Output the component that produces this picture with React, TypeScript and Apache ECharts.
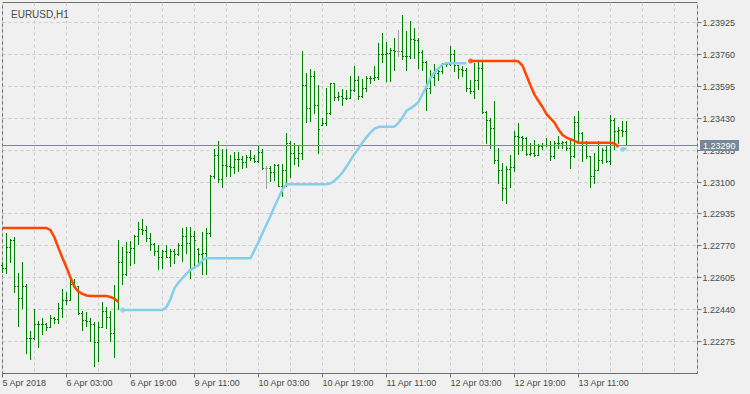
import React, { useEffect, useRef } from "react";
import * as echarts from "echarts";

// ---------- data (EURUSD, H1) ----------
const chartTitle = "EURUSD,H1";
// one label every 16 hourly bars, starting at bar 0
const timeLabels = [
  "5 Apr 2018", "6 Apr 03:00", "6 Apr 19:00", "9 Apr 11:00", "10 Apr 03:00",
  "10 Apr 19:00", "11 Apr 11:00", "12 Apr 03:00", "12 Apr 19:00", "13 Apr 11:00",
];
const labelEvery = 16;
const gridEvery = 8;

const priceTicks = [
  1.22275, 1.2244, 1.22605, 1.2277, 1.22935, 1.231, 1.23265, 1.2343, 1.23595, 1.2376, 1.23925,
];

const opens = [
  1.22670, 1.22653, 1.22762, 1.22800, 1.22562, 1.22500, 1.22558, 1.22289, 1.22292, 1.22365,
  1.22362, 1.22365, 1.22348, 1.22393, 1.22389, 1.22444, 1.22486, 1.22489, 1.22572, 1.22558,
  1.22421, 1.22382, 1.22379, 1.22362, 1.22272, 1.22348, 1.22432, 1.22398, 1.22315, 1.22489,
  1.22686, 1.22622, 1.22736, 1.22757, 1.22820, 1.22853, 1.22850, 1.22806, 1.22777, 1.22741,
  1.22712, 1.22741, 1.22712, 1.22741, 1.22727, 1.22774, 1.22820, 1.22781, 1.22820, 1.22752,
  1.22727, 1.22731, 1.22836, 1.23131, 1.23239, 1.23114, 1.23184, 1.23179, 1.23176, 1.23219,
  1.23216, 1.23202, 1.23227, 1.23224, 1.23205, 1.23253, 1.23170, 1.23170, 1.23150, 1.23184,
  1.23079, 1.23157, 1.23300, 1.23248, 1.23222, 1.23248, 1.23601, 1.23481, 1.23648, 1.23496,
  1.23394, 1.23405, 1.23455, 1.23607, 1.23538, 1.23541, 1.23531, 1.23533, 1.23572, 1.23626,
  1.23541, 1.23584, 1.23634, 1.23636, 1.23640, 1.23760, 1.23757, 1.23765, 1.23782, 1.23774,
  1.23774, 1.23748, 1.23751, 1.23838, 1.23834, 1.23772, 1.23720, 1.23586, 1.23638, 1.23662,
  1.23670, 1.23710, 1.23707, 1.23760, 1.23701, 1.23683, 1.23679, 1.23584, 1.23567, 1.23624,
  1.23688, 1.23458, 1.23420, 1.23377, 1.23213, 1.23157, 1.23067, 1.23165, 1.23176, 1.23334,
  1.23331, 1.23326, 1.23243, 1.23248, 1.23239, 1.23282, 1.23287, 1.23291, 1.23230, 1.23300,
  1.23297, 1.23305, 1.23274, 1.23230, 1.23408, 1.23352, 1.23305, 1.23230, 1.23127, 1.23162,
  1.23213, 1.23265, 1.23208, 1.23420, 1.23363, 1.23366, 1.23360,
];
const highs = [
  1.22686, 1.22834, 1.22803, 1.22814, 1.22627, 1.22686, 1.22572, 1.22327, 1.22438, 1.22379,
  1.22393, 1.22368, 1.22410, 1.22400, 1.22469, 1.22545, 1.22531, 1.22603, 1.22596, 1.22562,
  1.22431, 1.22427, 1.22393, 1.22372, 1.22372, 1.22479, 1.22451, 1.22429, 1.22567, 1.22800,
  1.22762, 1.22788, 1.22791, 1.22822, 1.22891, 1.22907, 1.22868, 1.22836, 1.22780, 1.22774,
  1.22748, 1.22774, 1.22753, 1.22753, 1.22783, 1.22860, 1.22867, 1.22867, 1.22846, 1.22755,
  1.22839, 1.22862, 1.23136, 1.23270, 1.23312, 1.23270, 1.23270, 1.23236, 1.23253, 1.23253,
  1.23234, 1.23236, 1.23265, 1.23239, 1.23291, 1.23270, 1.23179, 1.23182, 1.23188, 1.23188,
  1.23193, 1.23352, 1.23308, 1.23300, 1.23282, 1.23777, 1.23662, 1.23683, 1.23674, 1.23600,
  1.23429, 1.23586, 1.23610, 1.23610, 1.23562, 1.23576, 1.23572, 1.23648, 1.23700, 1.23648,
  1.23631, 1.23644, 1.23648, 1.23700, 1.23817, 1.23869, 1.23820, 1.23791, 1.23843, 1.23886,
  1.23963, 1.23881, 1.23932, 1.23896, 1.23844, 1.23782, 1.23724, 1.23679, 1.23710, 1.23679,
  1.23714, 1.23717, 1.23803, 1.23782, 1.23705, 1.23696, 1.23688, 1.23627, 1.23714, 1.23731,
  1.23727, 1.23463, 1.23429, 1.23519, 1.23274, 1.23196, 1.23179, 1.23236, 1.23363, 1.23403,
  1.23334, 1.23330, 1.23300, 1.23317, 1.23295, 1.23300, 1.23326, 1.23312, 1.23308, 1.23334,
  1.23308, 1.23308, 1.23326, 1.23437, 1.23463, 1.23356, 1.23308, 1.23234, 1.23248, 1.23308,
  1.23274, 1.23291, 1.23443, 1.23426, 1.23381, 1.23412, 1.23412,
];
const lows = [
  1.22634, 1.22627, 1.22682, 1.22527, 1.22351, 1.22444, 1.22214, 1.22183, 1.22286, 1.22245,
  1.22313, 1.22331, 1.22345, 1.22369, 1.22369, 1.22400, 1.22465, 1.22486, 1.22558, 1.22417,
  1.22334, 1.22355, 1.22276, 1.22148, 1.22172, 1.22345, 1.22343, 1.22274, 1.22191, 1.22438,
  1.22571, 1.22618, 1.22670, 1.22677, 1.22777, 1.22826, 1.22791, 1.22746, 1.22722, 1.22650,
  1.22653, 1.22708, 1.22662, 1.22679, 1.22722, 1.22687, 1.22729, 1.22602, 1.22653, 1.22670,
  1.22622, 1.22619, 1.22817, 1.23119, 1.23096, 1.23070, 1.23127, 1.23127, 1.23145, 1.23153,
  1.23171, 1.23176, 1.23210, 1.23200, 1.23202, 1.23165, 1.23067, 1.23101, 1.23110, 1.23075,
  1.23024, 1.23079, 1.23122, 1.23188, 1.23179, 1.23217, 1.23406, 1.23412, 1.23455, 1.23245,
  1.23390, 1.23394, 1.23450, 1.23520, 1.23524, 1.23498, 1.23527, 1.23530, 1.23570, 1.23527,
  1.23538, 1.23567, 1.23607, 1.23627, 1.23630, 1.23717, 1.23618, 1.23618, 1.23675, 1.23748,
  1.23734, 1.23679, 1.23739, 1.23741, 1.23689, 1.23679, 1.23472, 1.23560, 1.23601, 1.23627,
  1.23662, 1.23700, 1.23705, 1.23670, 1.23636, 1.23648, 1.23567, 1.23558, 1.23533, 1.23579,
  1.23455, 1.23300, 1.23274, 1.23196, 1.23093, 1.23003, 1.22989, 1.23070, 1.23153, 1.23243,
  1.23265, 1.23239, 1.23239, 1.23230, 1.23235, 1.23270, 1.23282, 1.23213, 1.23222, 1.23274,
  1.23274, 1.23265, 1.23171, 1.23225, 1.23300, 1.23205, 1.23222, 1.23070, 1.23093, 1.23158,
  1.23196, 1.23202, 1.23191, 1.23270, 1.23300, 1.23334, 1.23288,
];
const closes = [
  1.22653, 1.22762, 1.22800, 1.22562, 1.22500, 1.22558, 1.22289, 1.22292, 1.22365, 1.22362,
  1.22365, 1.22348, 1.22393, 1.22389, 1.22444, 1.22486, 1.22489, 1.22572, 1.22558, 1.22421,
  1.22382, 1.22379, 1.22362, 1.22272, 1.22348, 1.22432, 1.22398, 1.22315, 1.22489, 1.22686,
  1.22622, 1.22736, 1.22757, 1.22820, 1.22853, 1.22850, 1.22806, 1.22777, 1.22741, 1.22712,
  1.22741, 1.22712, 1.22741, 1.22727, 1.22774, 1.22820, 1.22781, 1.22820, 1.22798, 1.22727,
  1.22731, 1.22836, 1.23131, 1.23239, 1.23114, 1.23184, 1.23179, 1.23176, 1.23219, 1.23216,
  1.23202, 1.23227, 1.23224, 1.23205, 1.23253, 1.23170, 1.23170, 1.23150, 1.23184, 1.23079,
  1.23157, 1.23300, 1.23248, 1.23222, 1.23248, 1.23601, 1.23481, 1.23648, 1.23496, 1.23374,
  1.23405, 1.23455, 1.23607, 1.23538, 1.23541, 1.23531, 1.23533, 1.23572, 1.23626, 1.23541,
  1.23584, 1.23634, 1.23636, 1.23640, 1.23760, 1.23757, 1.23765, 1.23782, 1.23774, 1.23774,
  1.23748, 1.23751, 1.23838, 1.23834, 1.23772, 1.23720, 1.23586, 1.23638, 1.23662, 1.23670,
  1.23710, 1.23707, 1.23760, 1.23701, 1.23683, 1.23679, 1.23584, 1.23567, 1.23624, 1.23688,
  1.23458, 1.23420, 1.23377, 1.23213, 1.23157, 1.23067, 1.23165, 1.23176, 1.23334, 1.23331,
  1.23326, 1.23243, 1.23248, 1.23239, 1.23282, 1.23287, 1.23291, 1.23230, 1.23300, 1.23297,
  1.23305, 1.23274, 1.23230, 1.23408, 1.23352, 1.23305, 1.23230, 1.23127, 1.23162, 1.23213,
  1.23265, 1.23208, 1.23420, 1.23363, 1.23366, 1.23360, 1.23290,
];

// trailing line: orange while price trend is down, sky blue while up
const trailDown = [
  1.22862, 1.22862, 1.22862, 1.22862, 1.22862, 1.22862, 1.22862, 1.22862, 1.22862, 1.22862,
  1.22862, 1.22862, 1.22851, 1.22813, 1.22758, 1.22707, 1.22658, 1.22606, 1.22557, 1.22533,
  1.22521, 1.22513, 1.22510, 1.22510, 1.22510, 1.22510, 1.22510, 1.22505, 1.22497, 1.22479,
  null, null, null, null, null, null, null, null, null, null,
  null, null, null, null, null, null, null, null, null, null,
  null, null, null, null, null, null, null, null, null, null,
  null, null, null, null, null, null, null, null, null, null,
  null, null, null, null, null, null, null, null, null, null,
  null, null, null, null, null, null, null, null, null, null,
  null, null, null, null, null, null, null, null, null, null,
  null, null, null, null, null, null, null, null, null, null,
  null, null, null, null, null, null, null, 1.23726, 1.23726, 1.23726,
  1.23726, 1.23726, 1.23726, 1.23726, 1.23726, 1.23726, 1.23726, 1.23726, 1.23727, 1.23723,
  1.23702, 1.23651, 1.23599, 1.23552, 1.23519, 1.23488, 1.23451, 1.23429, 1.23407, 1.23371,
  1.23343, 1.23330, 1.23321, 1.23313, 1.23303, 1.23303, 1.23303, 1.23303, 1.23303, 1.23303,
  1.23303, 1.23303, 1.23303, 1.23299, 1.23281, null, null,
];
const trailUp = [
  null, null, null, null, null, null, null, null, null, null,
  null, null, null, null, null, null, null, null, null, null,
  null, null, null, null, null, null, null, null, null, null,
  1.22438, 1.22438, 1.22438, 1.22438, 1.22438, 1.22438, 1.22438, 1.22438, 1.22438, 1.22438,
  1.22438, 1.22453, 1.22495, 1.22551, 1.22580, 1.22603, 1.22626, 1.22645, 1.22658, 1.22670,
  1.22696, 1.22707, 1.22705, 1.22705, 1.22705, 1.22705, 1.22705, 1.22705, 1.22705, 1.22705,
  1.22705, 1.22705, 1.22705, 1.22748, 1.22789, 1.22836, 1.22880, 1.22924, 1.22973, 1.23017,
  1.23063, 1.23089, 1.23089, 1.23089, 1.23089, 1.23089, 1.23089, 1.23089, 1.23089, 1.23089,
  1.23089, 1.23089, 1.23092, 1.23107, 1.23126, 1.23149, 1.23180, 1.23213, 1.23245, 1.23273,
  1.23304, 1.23332, 1.23356, 1.23376, 1.23384, 1.23386, 1.23386, 1.23386, 1.23386, 1.23406,
  1.23433, 1.23469, 1.23481, 1.23495, 1.23515, 1.23555, 1.23594, 1.23638, 1.23666, 1.23688,
  1.23707, 1.23714, 1.23714, 1.23714, 1.23714, 1.23714, 1.23714, null, null, null,
  null, null, null, null, null, null, null, null, null, null,
  null, null, null, null, null, null, null, null, null, null,
  null, null, null, null, null, null, null, null, null, null,
  null, null, null, null, null, 1.23269, 1.23274,
];

// ---------- styling ----------
const BG = "#f0f0f0";
const GRID = "#cbcbcb";
const FRAME = "#6e6e6e";
const TEXT = "#4a4a4a";
const BAR_UP = "#008000";
const BAR_FLAT = "#a0a0a0";
const DOWN_COLOR = "#ff4500";
const UP_COLOR = "#87ceeb";
const BID = "#778899";
const FAMILY = '"Liberation Sans", Arial, sans-serif';
const FONT = "9px " + FAMILY;

const X_MAX = 173.75;
const Y_MIN = 1.221095;
const Y_MAX = 1.240285;

function segmentStarts(arr: (number | null)[]) {
  const out: [number, number][] = [];
  arr.forEach((v, i) => {
    if (v !== null && i > 0 && arr[i - 1] === null) out.push([i, v]);
  });
  return out;
}

export default function App() {
  const ref = useRef<HTMLDivElement>(null);

  useEffect(() => {
    if (!ref.current) return;
    const chart = echarts.init(ref.current, null, { renderer: "svg" });

    const ohlc = closes.map((c, i) => [i, opens[i], highs[i], lows[i], c]);
    const last = closes.length - 1;

    const option: any = {
      animation: false,
      backgroundColor: BG,
      title: {
        text: chartTitle,
        left: 6,
        top: 4,
        textStyle: { fontSize: 10, fontWeight: "normal", color: TEXT, fontFamily: FAMILY },
      },
      grid: {
        left: 2.5,
        right: 52.5,
        top: 2.5,
        bottom: 20.5,
        show: true,
        borderColor: FRAME,
        borderWidth: 1,
        backgroundColor: "transparent",
      },
      xAxis: {
        type: "value",
        min: 0,
        max: X_MAX,
        interval: gridEvery,
        axisLine: { show: false },
        axisTick: { show: false },
        axisLabel: { show: false },
        splitLine: { show: true, lineStyle: { color: GRID, width: 1, type: [3, 3] } },
      },
      yAxis: {
        type: "value",
        min: Y_MIN,
        max: Y_MAX,
        axisLine: { show: false },
        axisTick: { show: false },
        axisLabel: { show: false },
        splitLine: { show: false },
      },
      series: [
        {
          // price scale: dashed grid lines, ticks and labels on the right
          type: "custom",
          silent: true,
          z: 1,
          data: priceTicks.map((v) => [0, v]),
          renderItem: (params: any, api: any) => {
            const cs = params.coordSys;
            const v = api.value(1);
            const y = Math.floor(api.coord([0, v])[1]) + 0.5;
            const right = cs.x + cs.width;
            return {
              type: "group",
              children: [
                { type: "line", shape: { x1: cs.x, y1: y, x2: right, y2: y }, style: { stroke: GRID, lineWidth: 1, lineDash: [3, 3] } },
                { type: "line", shape: { x1: right, y1: y, x2: right + 4, y2: y }, style: { stroke: FRAME, lineWidth: 1 } },
                { type: "text", x: right + 5, y: y, style: { text: v.toFixed(5), fill: TEXT, font: FONT, align: "left", verticalAlign: "middle" } },
              ],
            };
          },
        },
        {
          // time scale: ticks and labels below the plot
          type: "custom",
          silent: true,
          z: 1,
          data: timeLabels.map((_, i) => [i * labelEvery, Y_MIN]),
          renderItem: (params: any, api: any) => {
            const cs = params.coordSys;
            const x = Math.floor(api.coord([api.value(0), api.value(1)])[0]) + 0.5;
            const bottom = cs.y + cs.height;
            return {
              type: "group",
              children: [
                { type: "line", shape: { x1: x, y1: bottom, x2: x, y2: bottom + 4 }, style: { stroke: FRAME, lineWidth: 1 } },
                { type: "text", x: x, y: bottom + 9, style: { text: timeLabels[params.dataIndex], fill: TEXT, font: FONT, align: "left", verticalAlign: "middle" } },
              ],
            };
          },
        },
        {
          // OHLC bars
          type: "custom",
          silent: true,
          z: 2,
          data: ohlc,
          encode: { x: 0, y: [1, 2, 3, 4] },
          renderItem: (params: any, api: any) => {
            const i = api.value(0);
            const o = api.value(1);
            const h = api.value(2);
            const l = api.value(3);
            const c = api.value(4);
            const po = api.coord([i, o]);
            const px = Math.floor(po[0]);
            const yO = Math.floor(po[1]);
            const yH = Math.floor(api.coord([i, h])[1]);
            const yL = Math.floor(api.coord([i, l])[1]);
            const yC = Math.floor(api.coord([i, c])[1]);
            const color = o === c ? BAR_FLAT : BAR_UP;
            return {
              type: "group",
              children: [
                { type: "rect", shape: { x: px, y: yH, width: 1, height: yL - yH + 1 }, style: { fill: color } },
                { type: "rect", shape: { x: px - 1, y: yO, width: 1, height: 1 }, style: { fill: color } },
                { type: "rect", shape: { x: px + 1, y: yC, width: 1, height: 1 }, style: { fill: color } },
              ],
            };
          },
        },
        {
          // bid line with its price box (it covers the 1.23265 label, as in the reference)
          type: "custom",
          silent: true,
          z: 3,
          data: [[last, closes[last]]],
          renderItem: (params: any, api: any) => {
            const cs = params.coordSys;
            const v = api.value(1);
            const y = Math.floor(api.coord([api.value(0), v])[1]) + 0.5;
            const right = cs.x + cs.width;
            return {
              type: "group",
              children: [
                { type: "line", shape: { x1: cs.x, y1: y, x2: right, y2: y }, style: { stroke: BID, lineWidth: 1 } },
                { type: "rect", shape: { x: right + 2.5, y: y - 5.5, width: 39, height: 11 }, style: { fill: BID } },
                { type: "text", x: right + 5.5, y: y, style: { text: v.toFixed(5), fill: "#ffffff", font: FONT, align: "left", verticalAlign: "middle" } },
              ],
            };
          },
        },
        {
          type: "line",
          silent: true,
          z: 4,
          data: trailDown.map((v, i) => [i, v === null ? "-" : v]),
          showSymbol: false,
          symbol: "none",
          connectNulls: false,
          lineStyle: { color: DOWN_COLOR, width: 2.5 },
        },
        {
          type: "line",
          silent: true,
          z: 4,
          data: trailUp.map((v, i) => [i, v === null ? "-" : v]),
          showSymbol: false,
          symbol: "none",
          connectNulls: false,
          lineStyle: { color: UP_COLOR, width: 2.5 },
        },
        {
          type: "scatter",
          silent: true,
          z: 5,
          symbolSize: 5,
          data: segmentStarts(trailDown),
          itemStyle: { color: DOWN_COLOR },
        },
        {
          type: "scatter",
          silent: true,
          z: 5,
          symbolSize: 5,
          data: segmentStarts(trailUp),
          itemStyle: { color: UP_COLOR },
        },
      ],
    };

    chart.setOption(option);
    return () => chart.dispose();
  }, []);

  return (
    <div
      ref={ref}
      style={{ position: "absolute", left: 0, top: 0, width: 750, height: 394, background: BG }}
    />
  );
}
